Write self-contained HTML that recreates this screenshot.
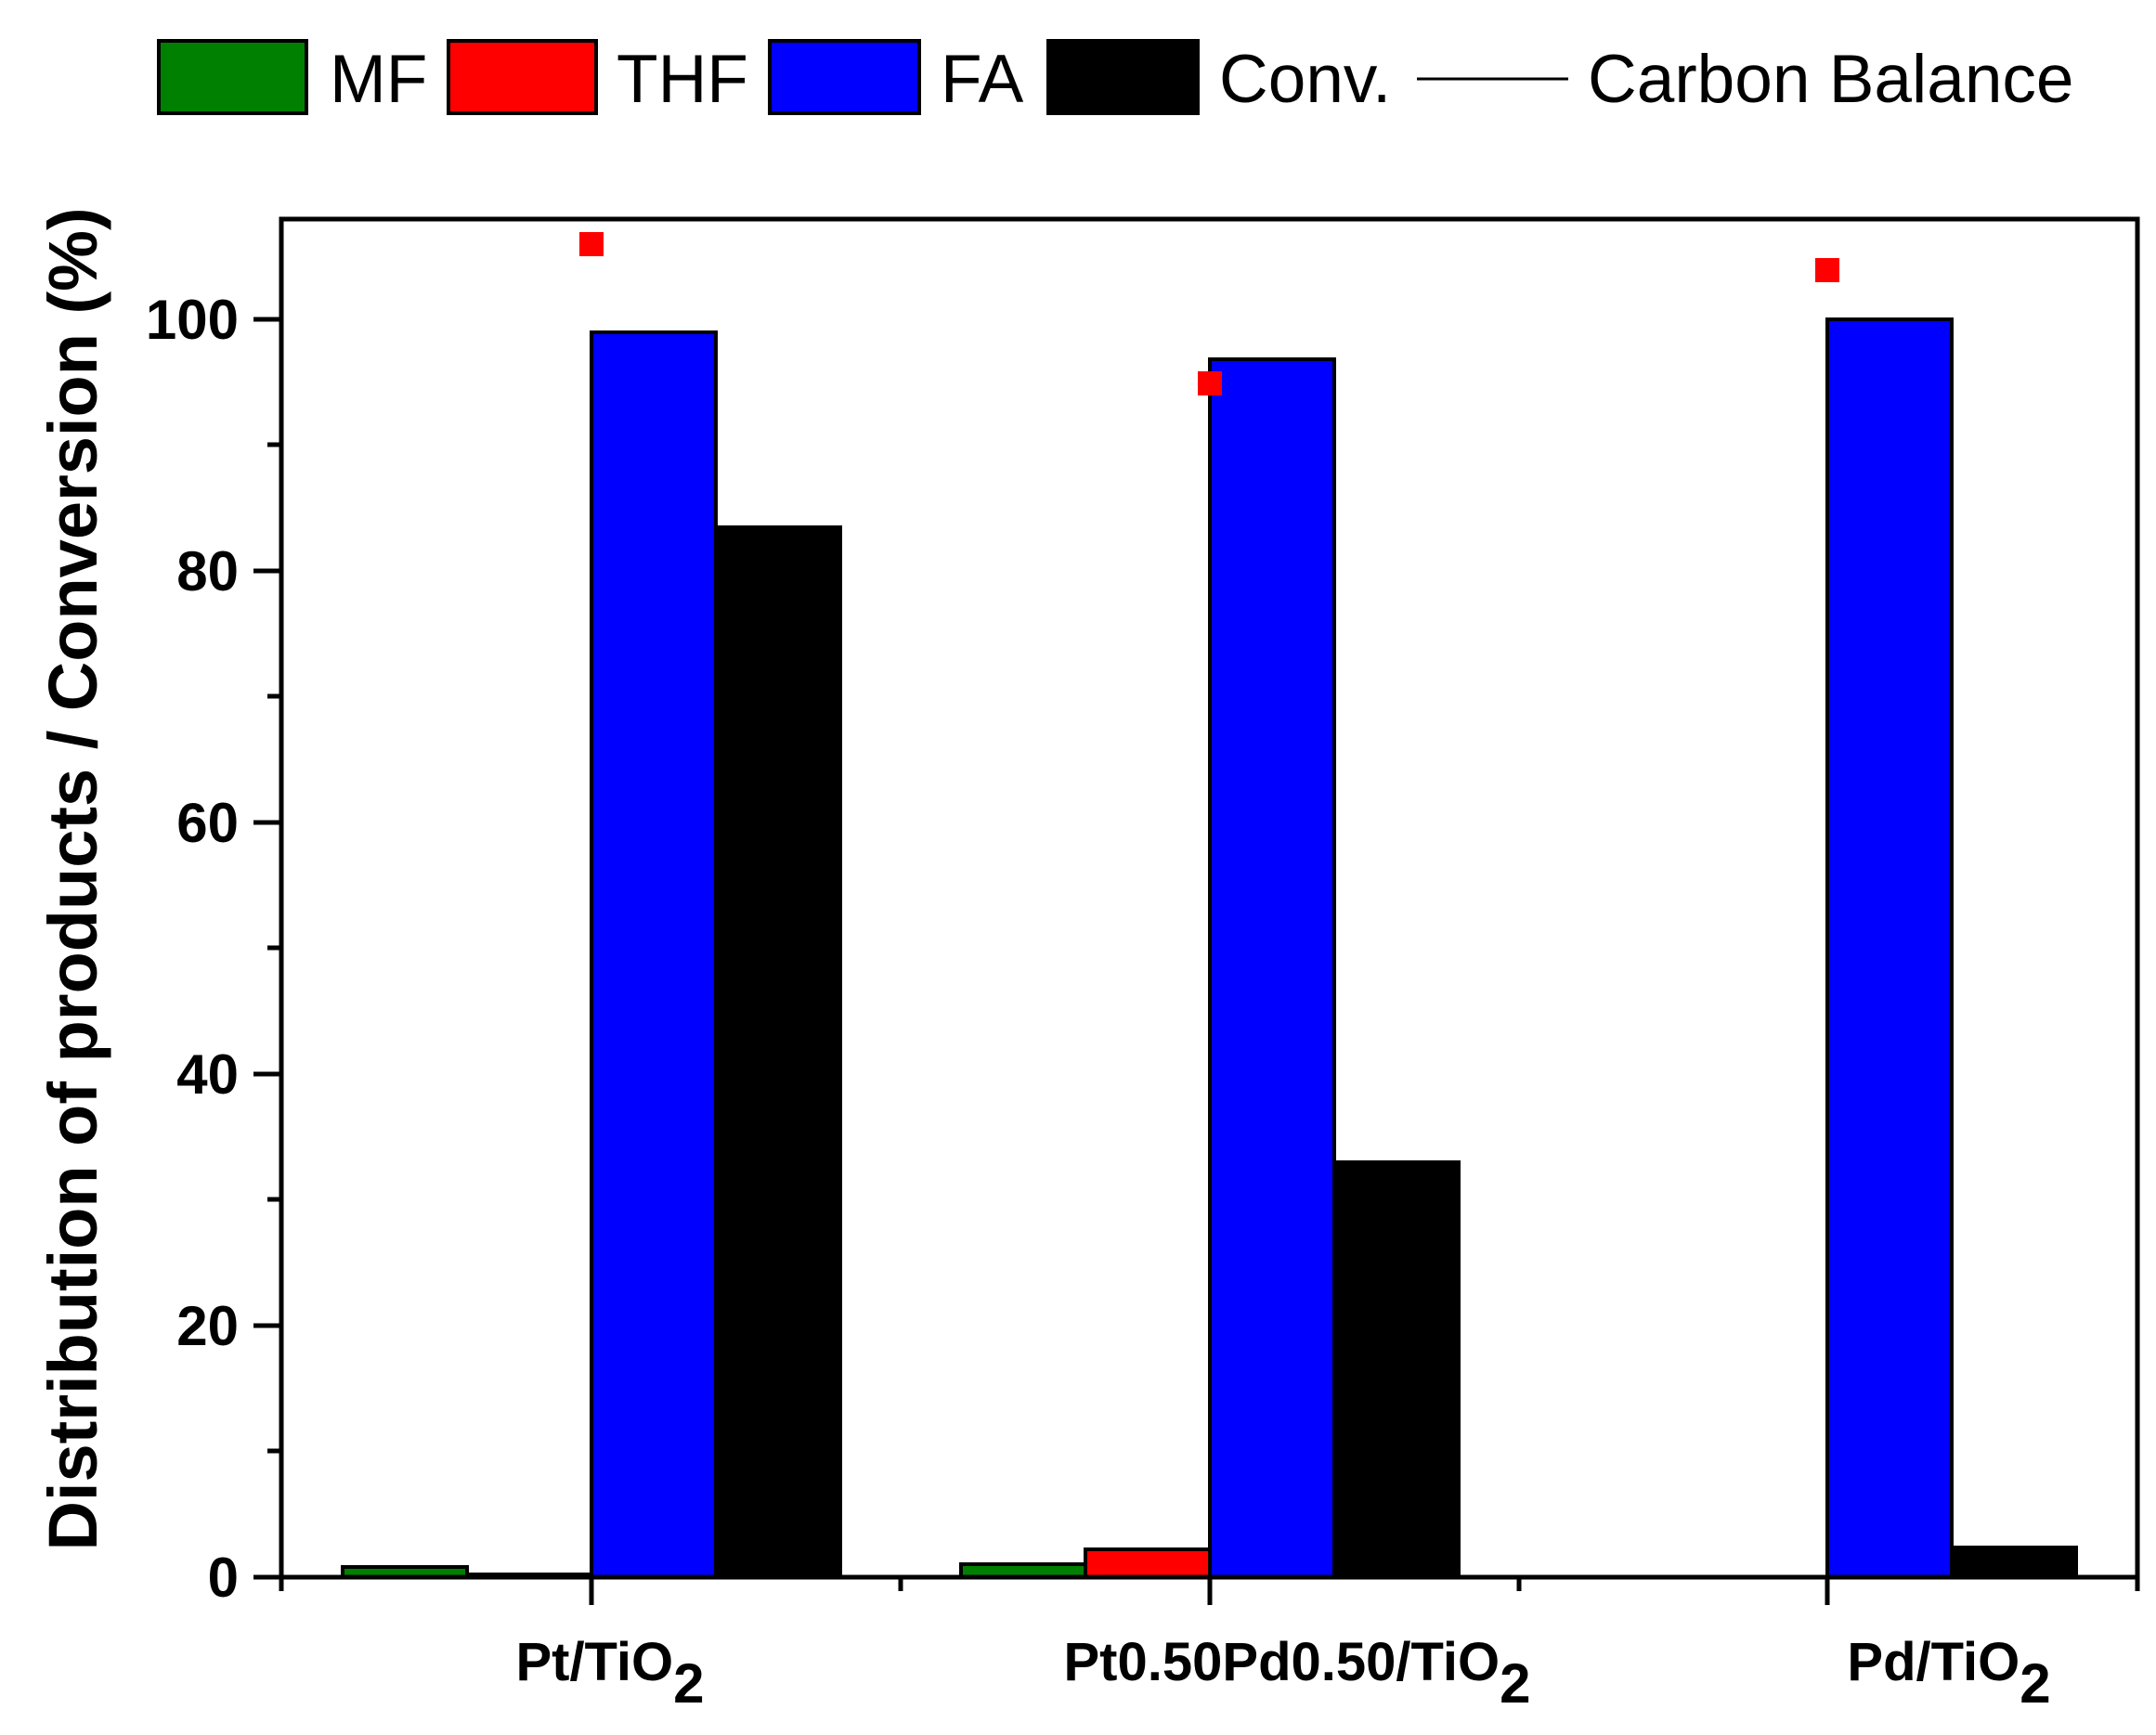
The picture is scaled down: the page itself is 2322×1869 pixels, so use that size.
<!DOCTYPE html>
<html><head><meta charset="utf-8"><style>html,body{margin:0;padding:0;background:#fff}</style></head>
<body>
<svg width="2322" height="1864" xmlns="http://www.w3.org/2000/svg" font-family="Liberation Sans, Arial, sans-serif">
<rect width="2322" height="1864" fill="#fff"/>
<!-- legend -->
<g stroke="#000" stroke-width="4">
<rect x="171" y="44" width="159" height="78" fill="#008000"/>
<rect x="483" y="44" width="159" height="78" fill="#ff0000"/>
<rect x="829" y="44" width="161" height="78" fill="#0000ff"/>
<rect x="1129" y="44" width="161" height="78" fill="#000"/>
<line x1="1526" y1="85" x2="1689" y2="85" stroke-width="3"/>
</g>
<g font-size="73" fill="#000">
<text x="355" y="110">MF</text>
<text x="664" y="110">THF</text>
<text x="1013" y="110">FA</text>
<text x="1313" y="110">Conv.</text>
<text x="1710" y="110">Carbon Balance</text>
</g>
<!-- bars: y0=1699, 13.55/unit -->
<g stroke="#000" stroke-width="4">
<rect x="369" y="1688" width="134" height="11" fill="#008000"/>
<rect x="503" y="1696" width="134" height="3" fill="#ff0000"/>
<rect x="637" y="358" width="134" height="1341" fill="#0000ff"/>
<rect x="771" y="568" width="134" height="1131" fill="#000"/>
<rect x="1035" y="1685" width="134" height="14" fill="#008000"/>
<rect x="1169" y="1669" width="134" height="30" fill="#ff0000"/>
<rect x="1303" y="387" width="134" height="1312" fill="#0000ff"/>
<rect x="1437" y="1252" width="134" height="447" fill="#000"/>
<rect x="1968" y="344" width="134" height="1355" fill="#0000ff"/>
<rect x="2102" y="1667" width="134" height="32" fill="#000"/>
</g>
<!-- carbon balance markers -->
<g fill="#ff0000">
<rect x="624" y="250" width="26" height="26"/>
<rect x="1290" y="400" width="26" height="26"/>
<rect x="1955" y="278" width="26" height="26"/>
</g>
<!-- axes -->
<rect x="303" y="236" width="1999" height="1463" fill="none" stroke="#000" stroke-width="5"/>
<g stroke="#000" stroke-width="5">
<line x1="273" y1="1699" x2="303" y2="1699"/><line x1="288" y1="1563" x2="303" y2="1563"/>
<line x1="273" y1="1428" x2="303" y2="1428"/><line x1="288" y1="1292" x2="303" y2="1292"/>
<line x1="273" y1="1157" x2="303" y2="1157"/><line x1="288" y1="1021" x2="303" y2="1021"/>
<line x1="273" y1="886" x2="303" y2="886"/><line x1="288" y1="750" x2="303" y2="750"/>
<line x1="273" y1="615" x2="303" y2="615"/><line x1="288" y1="479" x2="303" y2="479"/>
<line x1="273" y1="344" x2="303" y2="344"/>
<line x1="303" y1="1699" x2="303" y2="1714"/><line x1="637" y1="1699" x2="637" y2="1729"/>
<line x1="970" y1="1699" x2="970" y2="1714"/><line x1="1303" y1="1699" x2="1303" y2="1729"/>
<line x1="1636" y1="1699" x2="1636" y2="1714"/><line x1="1968" y1="1699" x2="1968" y2="1729"/>
<line x1="2302" y1="1699" x2="2302" y2="1714"/>
</g>
<g font-size="60" font-weight="bold" text-anchor="end" fill="#000">
<text x="257" y="1720">0</text>
<text x="257" y="1449">20</text>
<text x="257" y="1178">40</text>
<text x="257" y="907">60</text>
<text x="257" y="636">80</text>
<text x="257" y="365">100</text>
</g>
<text transform="translate(104,947) rotate(-90)" font-size="74" font-weight="bold" text-anchor="middle">Distribution of products / Conversion (%)</text>
<g font-size="58" font-weight="bold" fill="#000" text-anchor="middle">
<text x="657" y="1810">Pt/TiO<tspan font-size="60" dy="24">2</tspan></text>
<text x="1397" y="1810">Pt0.50Pd0.50/TiO<tspan font-size="60" dy="24">2</tspan></text>
<text x="2099" y="1810">Pd/TiO<tspan font-size="60" dy="24">2</tspan></text>
</g>
</svg>
</body></html>
